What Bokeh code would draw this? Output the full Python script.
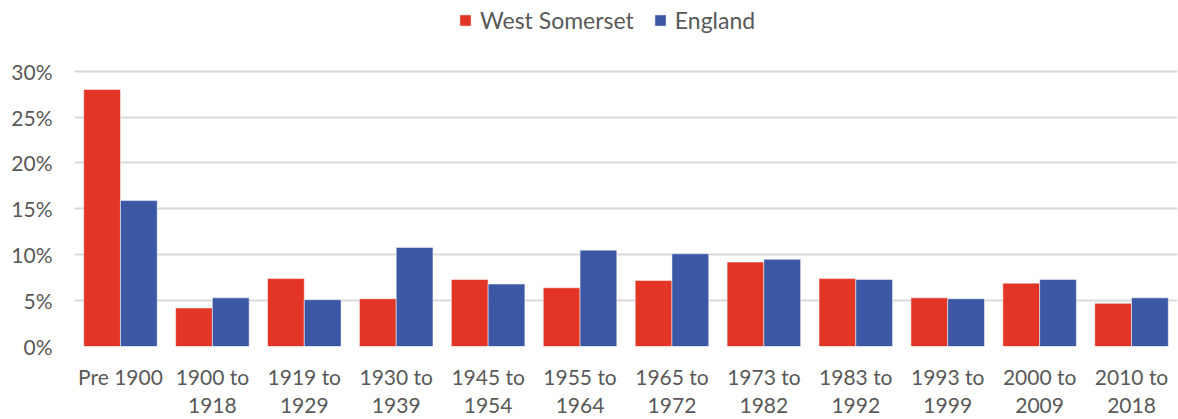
from bokeh.plotting import figure
from bokeh.models import (ColumnDataSource, Range1d, FixedTicker, Legend, LegendItem,
                          NumeralTickFormatter, LinearAxis)
from bokeh.transform import dodge
from bokeh.embed import file_html
from bokeh.resources import INLINE

periods = ["Pre 1900", "1900 to 1918", "1919 to 1929", "1930 to 1939", "1945 to 1954",
           "1955 to 1964", "1965 to 1972", "1973 to 1982", "1983 to 1992", "1993 to 1999",
           "2000 to 2009", "2010 to 2018"]
west_somerset = [0.280, 0.042, 0.074, 0.052, 0.073, 0.064, 0.072, 0.092, 0.074, 0.053, 0.069, 0.047]
england = [0.159, 0.053, 0.051, 0.108, 0.068, 0.105, 0.101, 0.095, 0.073, 0.052, 0.073, 0.053]
y_ticks = [0, 0.05, 0.10, 0.15, 0.20, 0.25, 0.30]

RED = "#E33526"
BLUE = "#3C57A3"
TXT = "#595959"
FONT = "Lato"

pos = list(range(len(periods)))
src = ColumnDataSource(dict(x=pos, period=periods, ws=west_somerset, en=england))

p = figure(width=1178, height=419, x_range=Range1d(-0.5, len(periods) - 0.5), y_range=Range1d(0, 0.377),
           output_backend="svg", toolbar_location=None,
           min_border_left=74, min_border_right=1, min_border_top=0, min_border_bottom=73)
p.outline_line_color = None
p.background_fill_color = "white"

r1 = p.vbar(x=dodge("x", -0.2), top="ws", width=0.4, source=src,
            fill_color=RED, line_color="white", line_alpha=0.5, line_width=1)
r2 = p.vbar(x=dodge("x", 0.2), top="en", width=0.4, source=src,
            fill_color=BLUE, line_color="white", line_alpha=0.5, line_width=1)

p.yaxis.ticker = FixedTicker(ticks=y_ticks)
p.yaxis.formatter = NumeralTickFormatter(format="0%")
p.ygrid.ticker = FixedTicker(ticks=y_ticks)
p.ygrid.grid_line_color = "#D9D9D9"
p.ygrid.grid_line_width = 2
p.xgrid.grid_line_color = None
p.ygrid.level = "underlay"

# category labels in two lines: the main x axis carries the first line, a second axis the second
first_line = {i: (c.split(" to ")[0] + " to" if " to " in c else c) for i, c in enumerate(periods)}
second_line = {i: (c.split(" to ")[1] if " to " in c else " ") for i, c in enumerate(periods)}

xaxis2 = LinearAxis()
p.add_layout(xaxis2, "below")

for ax in (p.xaxis[0], xaxis2):
    ax.ticker = FixedTicker(ticks=pos, minor_ticks=[])

for ax in (p.xaxis[0], xaxis2, p.yaxis[0]):
    ax.axis_line_color = None
    ax.major_tick_line_color = None
    ax.minor_tick_line_color = None
    ax.major_tick_out = 0
    ax.major_tick_in = 0
    ax.minor_tick_out = 0
    ax.minor_tick_in = 0
    ax.major_label_text_font = FONT
    ax.major_label_text_font_size = "21px"
    ax.major_label_text_color = TXT

p.yaxis.major_label_standoff = 22
p.xaxis[0].major_label_standoff = 17
p.xaxis[0].major_label_overrides = first_line
xaxis2.major_label_standoff = 0
xaxis2.major_label_overrides = second_line

legend = Legend(items=[LegendItem(label="West Somerset", renderers=[r1]),
                       LegendItem(label="England", renderers=[r2])],
                location=(384, 312), orientation="horizontal",
                label_text_font=FONT, label_text_font_size="23px", label_text_color=TXT,
                glyph_width=14, glyph_height=14, spacing=19, label_standoff=8,
                border_line_color=None, background_fill_alpha=0, margin=0, padding=0)
p.add_layout(legend)

open("out.html", "w").write(file_html(p, INLINE))
